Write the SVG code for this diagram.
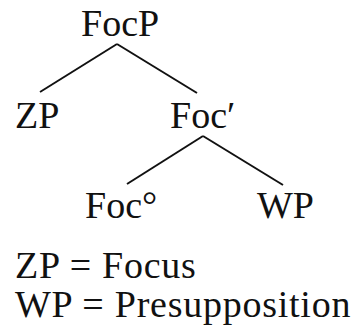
<svg xmlns="http://www.w3.org/2000/svg" width="353" height="334" viewBox="0 0 353 334">
<style>
text{font-family:"Liberation Serif","Times New Roman",serif;font-size:38px;fill:#111}
.leg{letter-spacing:0.75px}
.c line{stroke:#111;stroke-width:2;stroke-linecap:butt}
</style>
<rect width="353" height="334" fill="#fff"/>
<g class="c" id="connectors">
<line x1="117" y1="44" x2="40" y2="92"/>
<line x1="117" y1="44" x2="197" y2="93"/>
<line x1="203" y1="136" x2="127" y2="184"/>
<line x1="203" y1="136" x2="283" y2="185"/>
</g>
<g id="FocP"><text x="81" y="36">FocP</text></g>
<g id="ZP"><text x="15" y="128">ZP</text></g>
<g id="Foc1"><text x="170" y="128">Foc′</text></g>
<g id="Foc0"><text x="85" y="218">Foc°</text></g>
<g id="WP"><text x="257" y="218">WP</text></g>
<g id="legend">
<text class="leg" x="15" y="278">ZP = Focus</text>
<text class="leg" x="15" y="317">WP = Presupposition</text>
</g>
</svg>
